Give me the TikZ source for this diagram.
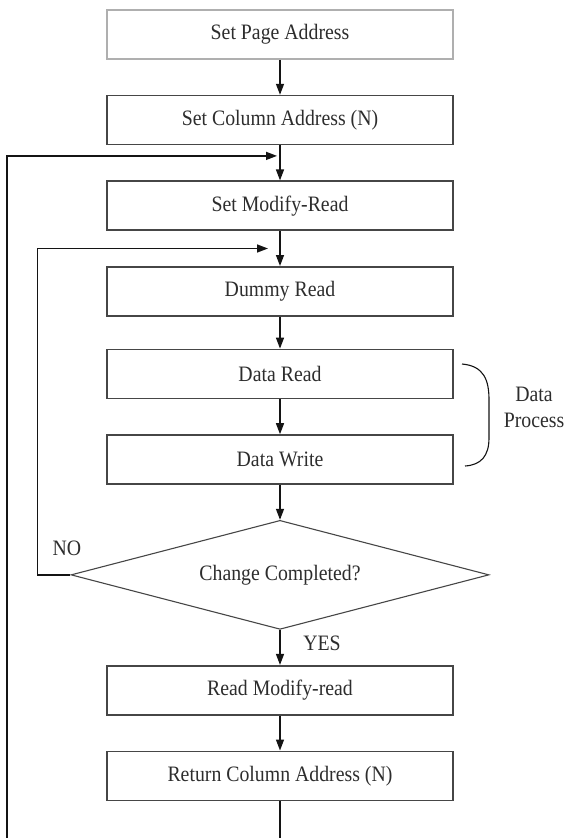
\documentclass[tikz,border=0pt]{standalone}
\usepackage{fontspec}
\setmainfont{Liberation Serif}[FakeStretch=0.9]
\usetikzlibrary{positioning,arrows.meta,shapes.geometric,calc}
\definecolor{colorline}  {RGB}{20 ,20 ,20 }
\definecolor{colorframe} {RGB}{70 ,70 ,70 }
\definecolor{colorlight} {RGB}{175,175,175}
\definecolor{colortext}  {RGB}{45 ,45 ,45 }

\begin{document}
\begin{tikzpicture}[
    x=1pt, y=-1pt,
    node distance = 35pt,
    font={\fontsize{22}{26}\selectfont},
    >={Triangle[length=11pt,width=8pt]},
    base/.style={text=colortext,inner sep=0pt,align=center},
    stepbox/.style={base,rectangle,draw=colorframe,line width=1.6pt,minimum width=346pt,minimum height=49pt},
    decision/.style={base,diamond,aspect=3.835,draw=colorframe,line width=1.1pt,minimum width=418pt,minimum height=109pt},
    txt/.style={text=colortext,align=center},
    flow/.style={->,line width=1.4pt,draw=colorline},
]
    \clip (0,0) rectangle (566,838);

    % Nodes
    \node[stepbox,draw=colorlight] (page) at (280,34.5) {Set Page Address};
    \node[stepbox,below=of page]   (col)    {Set Column Address (N)};
    \node[stepbox,below=of col]    (setmod) {Set Modify-Read};
    \node[stepbox,below=of setmod] (dummy)  {Dummy Read};
    \node[stepbox,below=32pt of dummy] (rd) {Data Read};
    \node[stepbox,below=of rd]     (wr)     {Data Write};
    \node[decision,below=of wr]    (chk)    {Change Completed?};
    \node[stepbox,below=of chk]    (rdmod)  {Read Modify-read};
    \node[stepbox,below=of rdmod]  (ret)    {Return Column Address (N)};

    % Text
    \node[txt] (no)   at (67,548)  {NO};
    \node[txt] (yes)  at (322,643) {YES};
    \node[txt] (proc) at (534,407) {Data\\Process};

    % Brace
    \draw[line width=1.1pt,colorline] (462,364) .. controls (484,366) and (489,380) .. (489,400)
        -- (489,438) .. controls (489,456) and (481,465) .. (465,466);

    % Arrows
    \draw[flow] (page)   -- (col);
    \draw[flow] (col)    -- (setmod);
    \draw[flow] (setmod) -- (dummy);
    \draw[flow] (dummy)  -- (rd);
    \draw[flow] (rd)     -- (wr);
    \draw[flow] (wr)     -- (chk);
    \draw[flow] (chk)    -- (rdmod);
    \draw[flow] (rdmod)  -- (ret);

    % Loops
    \coordinate (in1)   at ($(col.south)!.3!(setmod.north)+(-3,0)$);
    \coordinate (left1) at (7,850);
    \draw[flow] (ret.south) |- (left1) |- (in1);
    \coordinate (in2)   at ($(setmod.south)!.5!(dummy.north)+(-12,0)$);
    \coordinate (left2) at ($(chk.west)+(-33,0)$);
    \draw[flow] (chk.west) -- (left2) |- (in2);

\end{tikzpicture}
\end{document}
